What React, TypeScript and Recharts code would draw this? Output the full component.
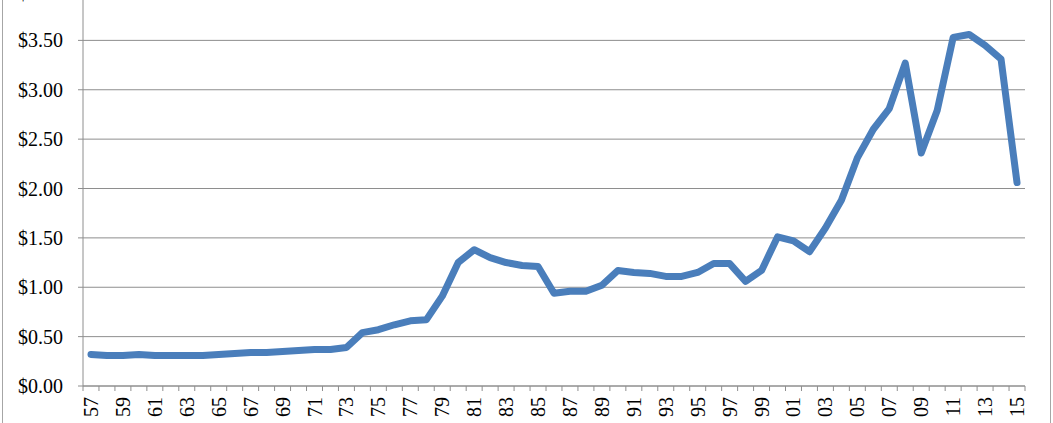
import { LineChart, Line, XAxis, YAxis, CartesianGrid } from 'recharts';

const years = [
  1957, 1958, 1959, 1960, 1961, 1962, 1963, 1964, 1965, 1966,
  1967, 1968, 1969, 1970, 1971, 1972, 1973, 1974, 1975, 1976,
  1977, 1978, 1979, 1980, 1981, 1982, 1983, 1984, 1985, 1986,
  1987, 1988, 1989, 1990, 1991, 1992, 1993, 1994, 1995, 1996,
  1997, 1998, 1999, 2000, 2001, 2002, 2003, 2004, 2005, 2006,
  2007, 2008, 2009, 2010, 2011, 2012, 2013, 2014, 2015,
];

const prices = [
  0.32, 0.31, 0.31, 0.32, 0.31, 0.31, 0.31, 0.31, 0.32, 0.33,
  0.34, 0.34, 0.35, 0.36, 0.37, 0.37, 0.39, 0.54, 0.57, 0.62,
  0.66, 0.67, 0.91, 1.25, 1.38, 1.30, 1.25, 1.22, 1.21, 0.94,
  0.96, 0.96, 1.02, 1.17, 1.15, 1.14, 1.11, 1.11, 1.15, 1.24,
  1.24, 1.06, 1.17, 1.51, 1.47, 1.36, 1.60, 1.88, 2.31, 2.60,
  2.81, 3.27, 2.36, 2.79, 3.53, 3.56, 3.45, 3.31, 2.06,
];

const yTicks = [0, 0.5, 1, 1.5, 2, 2.5, 3, 3.5, 4];

const data = years.map((year, i) => ({ year, price: prices[i] }));

// tick marks sit between years, labels on every other year
const xTicks: number[] = [];
years.forEach((y) => {
  xTicks.push(y - 0.5);
  xTicks.push(y);
});
xTicks.push(years[years.length - 1] + 0.5);

const FONT = '"Liberation Serif", "Times New Roman", serif';
const AXIS = '#8e8e8e';

const XTick = (props: any) => {
  const { x, y, payload } = props;
  const v = payload.value as number;
  if (v % 1 !== 0) {
    return <line x1={x} y1={y} x2={x} y2={y + 5} stroke={AXIS} strokeWidth={1} />;
  }
  if ((v - years[0]) % 2 !== 0) return null;
  const ty = y + 11;
  return (
    <text
      x={x}
      y={ty}
      dy="0.35em"
      textAnchor="end"
      transform={`rotate(-90, ${x}, ${ty})`}
      fontFamily={FONT}
      fontSize={20}
      fill="#000"
    >
      {String(v).slice(2)}
    </text>
  );
};

export default function App() {
  return (
    <div
      style={{
        position: 'absolute',
        left: 2,
        top: -20,
        width: 1047,
        height: 450,
        border: '1px solid #a6a6a6',
        background: '#fff',
      }}
    >
      <LineChart
        width={1047}
        height={450}
        data={data}
        margin={{ top: 10, right: 25, bottom: 5, left: 0 }}
      >
        <CartesianGrid vertical={false} stroke={AXIS} strokeWidth={1} />
        <XAxis
          dataKey="year"
          type="number"
          domain={[years[0] - 0.5, years[years.length - 1] + 0.5]}
          ticks={xTicks}
          interval={0}
          tickLine={false}
          tickSize={0}
          tickMargin={0}
          height={40}
          axisLine={{ stroke: AXIS }}
          tick={<XTick />}
        />
        <YAxis
          domain={[0, 4]}
          ticks={yTicks}
          width={80}
          tickSize={5}
          tickMargin={15}
          axisLine={{ stroke: AXIS }}
          tickLine={{ stroke: AXIS }}
          tickFormatter={(v: number) => `$${v.toFixed(2)}`}
          tick={{ fontFamily: FONT, fontSize: 20, fill: '#000' }}
        />
        <Line
          type="linear"
          dataKey="price"
          stroke="#4a7ebb"
          strokeWidth={7}
          strokeLinejoin="round"
          strokeLinecap="round"
          dot={false}
          isAnimationActive={false}
        />
      </LineChart>
    </div>
  );
}
